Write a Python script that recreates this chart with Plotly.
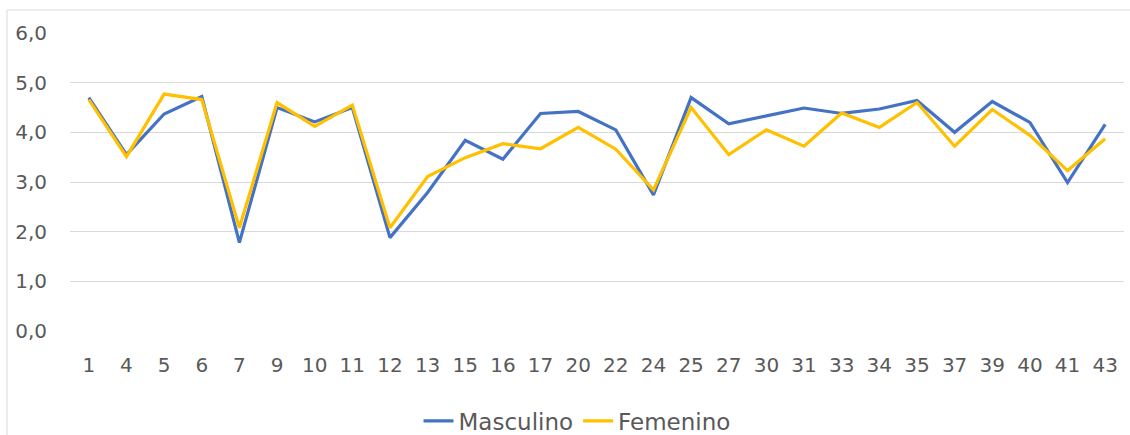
import plotly.graph_objects as go

categories = ["1", "4", "5", "6", "7", "9", "10", "11", "12", "13", "15", "16", "17", "20",
              "22", "24", "25", "27", "30", "31", "33", "34", "35", "37", "39", "40", "41", "43"]
masculino = [4.70, 3.55, 4.37, 4.72, 1.78, 4.50, 4.21, 4.50, 1.88, 2.79, 3.84, 3.46, 4.38, 4.42,
             4.05, 2.74, 4.70, 4.17, 4.33, 4.49, 4.38, 4.47, 4.64, 4.00, 4.62, 4.20, 2.99, 4.16]
femenino = [4.66, 3.51, 4.77, 4.66, 2.08, 4.60, 4.12, 4.55, 2.08, 3.11, 3.49, 3.77, 3.67, 4.10,
            3.66, 2.84, 4.50, 3.55, 4.05, 3.72, 4.39, 4.10, 4.60, 3.72, 4.46, 3.94, 3.23, 3.87]
y_ticks = [0, 1, 2, 3, 4, 5, 6]

font_family = "'DejaVu Sans', sans-serif"
text_color = "#595959"

fig = go.Figure()
fig.add_trace(go.Scatter(x=categories, y=masculino, name="Masculino", mode="lines",
                         line=dict(color="#4472C4", width=3.2)))
fig.add_trace(go.Scatter(x=categories, y=femenino, name="Femenino", mode="lines",
                         line=dict(color="#FFC000", width=3.2)))

# Figure is slightly taller than the 435px window so the legend never squeezes the plot;
# the extra strip below 435px is simply outside the window.
W, H = 1130, 455
L, R, T = 70, 6, 33
plot_bottom = 331
B = H - plot_bottom
pw, ph = W - L - R, H - T - B

fig.update_layout(
    width=W, height=H,
    margin=dict(l=L, r=R, t=T, b=B),
    paper_bgcolor="white", plot_bgcolor="white",
    separators=",.",
    font=dict(family=font_family, color=text_color, size=20),
    showlegend=True,
    legend=dict(orientation="h", x=(577 - L) / pw, xanchor="center", y=-(421 - plot_bottom) / ph,
                yanchor="middle", font=dict(size=23, color=text_color),
                itemwidth=30, tracegroupgap=0),
    xaxis=dict(type="category", range=[-0.5, len(categories) - 0.5], showgrid=False,
               showline=False, zeroline=False, ticks="", tickfont=dict(size=20),
               ticklabelstandoff=20),
    yaxis=dict(range=[0, 6], tickvals=y_ticks, tickformat=".1f", showgrid=True,
               gridcolor="#D9D9D9", gridwidth=1, zeroline=False, showline=False,
               ticks="", tickfont=dict(size=20), ticklabelstandoff=22),
    shapes=[dict(type="rect", xref="paper", yref="paper",
                 x0=-(L - 7) / pw, x1=1 + (1136 - (W - R)) / pw,
                 y0=-(448 - plot_bottom) / ph, y1=1 + (T - 10) / ph,
                 line=dict(color="#D9D9D9", width=1), fillcolor="rgba(0,0,0,0)",
                 layer="below")],
)

fig.write_html("out.html", config={"displayModeBar": False},
               post_script="document.body.style.margin='0';document.body.style.overflow='hidden';")
